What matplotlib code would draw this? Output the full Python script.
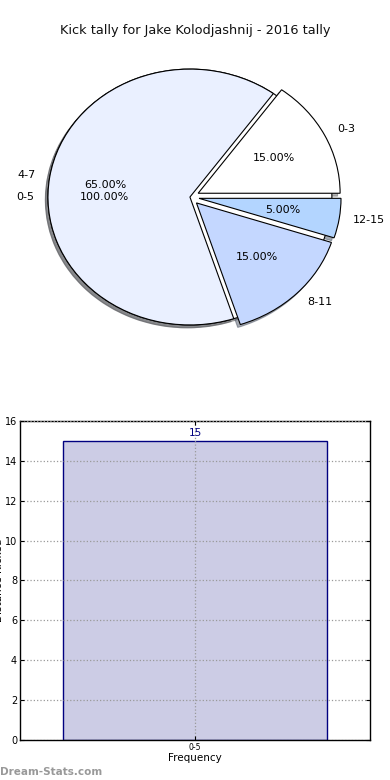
import matplotlib
matplotlib.use("Agg")
import matplotlib.pyplot as plt

# datos del grafico
titulo = "Kick tally for Jake Kolodjashnij - 2016 tally"
rangos = ["0-3", "4-7", "8-11", "12-15"]
porcentajes = [15, 65, 15, 5]
colores_pie = ["#FFFFFF", "#EAF0FF", "#C4D7FF", "#B3D5FF"]
separacion = [0.065, 0.0, 0.065, 0.065]

rangos_total = ["0-5"]
porcentajes_total = [100]

barras_etiquetas = ["0-5"]
barras_valores = [15]


fig = plt.figure(figsize=(3.9, 7.8), dpi=100)
fig.text(0.5, 0.961, titulo, ha="center", va="center", fontsize=9.3, color="#111111")

sombra = dict(ox=-0.013, oy=-0.016, shade=0.6)

# Pie de arriba (el de 100% queda debajo)
ax1 = fig.add_axes([0.032, 0.5424, 0.910, 0.410])
ax1.pie(porcentajes_total, labels=rangos_total, autopct="%1.2f%%", colors=["#FFFFFF"],
        startangle=0, shadow=sombra,
        wedgeprops=dict(linewidth=0.8, edgecolor="black"),
        textprops=dict(fontsize=8))
ax1.pie(porcentajes, labels=rangos, autopct="%1.2f%%", colors=colores_pie,
        startangle=0, shadow=sombra, explode=separacion,
        wedgeprops=dict(linewidth=0.8, edgecolor="black"),
        textprops=dict(fontsize=8))
ax1.set_aspect("auto")
ax1.set_xlim(-1.25, 1.25)
ax1.set_ylim(-1.25, 1.25)
ax1.axis("off")

# Barras de abajo
ax2 = fig.add_axes([0.051, 0.0513, 0.898, 0.409])
posiciones = list(range(len(barras_valores)))
ax2.bar(posiciones, barras_valores, width=0.8, color="#CCCCE5", edgecolor="#000080", linewidth=1, zorder=1)
for x, v in zip(posiciones, barras_valores):
    ax2.text(x, v + 0.15, str(v), ha="center", va="bottom", fontsize=7.5, color="#000080")
ax2.set_xlim(-0.53, 0.53)
ax2.set_ylim(0, 16)
ax2.set_yticks(range(0, 17, 2))
ax2.set_xticks(posiciones)
ax2.set_xticklabels(barras_etiquetas)
ax2.tick_params(axis="y", labelsize=7)
ax2.tick_params(axis="x", labelsize=5.5)
ax2.tick_params(direction="in", top=True, right=True, length=3, pad=2)
ax2.grid(True, linestyle=":", color="#999999", linewidth=0.9, zorder=2)
ax2.set_axisbelow(False)
ax2.set_xlabel("Frequency", fontsize=7.5, labelpad=1)
ax2.set_ylabel("Distance Kicked", fontsize=7.5, labelpad=0.5)
for s in ax2.spines.values():
    s.set_linewidth(1)

fig.text(0.0, 0.004, "Dream-Stats.com", fontsize=7.5, color="#999999", fontweight="semibold", ha="left", va="bottom")

plt.savefig("out.png", dpi=100)
